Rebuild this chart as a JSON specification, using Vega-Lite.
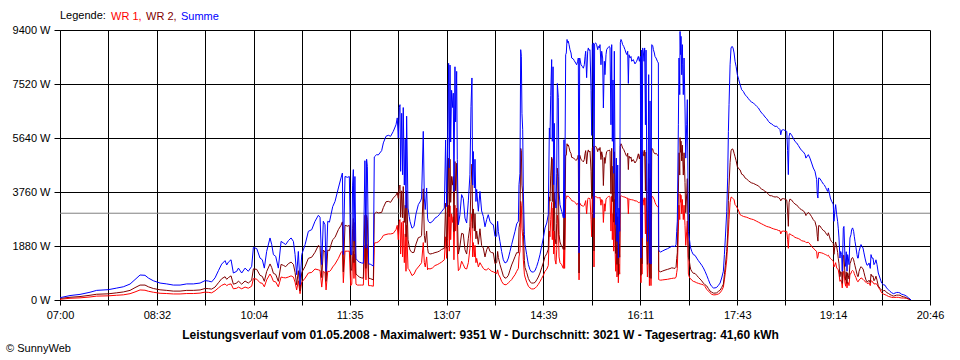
{
"$schema":"https://vega.github.io/schema/vega-lite/v6.json",
"width":870,"height":270,"autosize":"none",
"padding":{"left":60,"top":30,"right":30,"bottom":60},
"background":"white",
"config":{"font":"Liberation Sans","view":{"stroke":null},
"axis":{"domainColor":"black","tickColor":"black","gridColor":"black","gridOpacity":1,"gridWidth":1,"labelColor":"black","labelFontSize":11,"tickWidth":1,"domainWidth":1}},
"title":{"text":"© SunnyWeb","orient":"bottom","anchor":"start","frame":"bounds","fontSize":11,"fontWeight":"normal","color":"black","offset":3,"dx":-6},
"layer":[
{"data":{"values":[{"durchschnitt":3021}]},"mark":{"type":"rule","color":"#808080","strokeWidth":1},"encoding":{"y":{"field":"durchschnitt","type":"quantitative","scale":{"domain":[0,9400],"nice":false},
"axis":{"values":[0,1880,3760,5640,7520,9400],"labelExpr":"datum.value + ' W'","title":null,"grid":true,"tickSize":6,"labelPadding":4,"labelFlush":false}}}},
{"data":{"values":[
{"minute":420,"wr1":25,"wr2":55,"summe":80},
{"minute":429.5,"wr1":60,"wr2":95,"summe":155},
{"minute":439,"wr1":75,"wr2":120,"summe":195},
{"minute":448.5,"wr1":105,"wr2":165,"summe":270},
{"minute":454.8,"wr1":135,"wr2":200,"summe":335},
{"minute":465.9,"wr1":145,"wr2":215,"summe":360},
{"minute":473.8,"wr1":165,"wr2":250,"summe":415},
{"minute":480.1,"wr1":180,"wr2":280,"summe":460},
{"minute":486.5,"wr1":220,"wr2":335,"summe":555},
{"minute":491.2,"wr1":280,"wr2":430,"summe":710},
{"minute":496,"wr1":350,"wr2":520,"summe":870},
{"minute":500.7,"wr1":340,"wr2":520,"summe":860},
{"minute":503.9,"wr1":305,"wr2":460,"summe":765},
{"minute":508.6,"wr1":270,"wr2":400,"summe":670},
{"minute":515,"wr1":235,"wr2":355,"summe":590},
{"minute":521.3,"wr1":225,"wr2":335,"summe":560},
{"minute":527.6,"wr1":210,"wr2":310,"summe":520},
{"minute":534,"wr1":210,"wr2":310,"summe":520},
{"minute":540.3,"wr1":225,"wr2":335,"summe":560},
{"minute":546.6,"wr1":225,"wr2":335,"summe":560},
{"minute":553,"wr1":240,"wr2":350,"summe":590},
{"minute":557.7,"wr1":275,"wr2":400,"summe":675},
{"minute":560.9,"wr1":265,"wr2":395,"summe":660},
{"minute":564,"wr1":250,"wr2":380,"summe":630},
{"minute":567.2,"wr1":320,"wr2":450,"summe":770},
{"minute":570.4,"wr1":420,"wr2":600,"summe":1020},
{"minute":573.5,"wr1":510,"wr2":740,"summe":1250},
{"minute":576.7,"wr1":560,"wr2":810,"summe":1370},
{"minute":578.3,"wr1":500,"wr2":720,"summe":1220},
{"minute":579.9,"wr1":540,"wr2":780,"summe":1320},
{"minute":582.4,"wr1":560,"wr2":840,"summe":1400},
{"minute":584.6,"wr1":390,"wr2":550,"summe":940},
{"minute":587.8,"wr1":410,"wr2":590,"summe":1000},
{"minute":589.4,"wr1":450,"wr2":660,"summe":1110},
{"minute":592.5,"wr1":390,"wr2":550,"summe":940},
{"minute":595.7,"wr1":450,"wr2":660,"summe":1110},
{"minute":598.8,"wr1":410,"wr2":590,"summe":1000},
{"minute":602,"wr1":480,"wr2":690,"summe":1170},
{"minute":603.6,"wr1":745,"wr2":1085,"summe":1830},
{"minute":606.8,"wr1":725,"wr2":1065,"summe":1790},
{"minute":609.9,"wr1":600,"wr2":860,"summe":1460},
{"minute":612.1,"wr1":580,"wr2":820,"summe":1400},
{"minute":614,"wr1":460,"wr2":650,"summe":1110},
{"minute":616.2,"wr1":700,"wr2":990,"summe":1690},
{"minute":619.4,"wr1":905,"wr2":1255,"summe":2160},
{"minute":621,"wr1":800,"wr2":1130,"summe":1930},
{"minute":622.6,"wr1":650,"wr2":930,"summe":1580},
{"minute":624.8,"wr1":630,"wr2":890,"summe":1520},
{"minute":627.3,"wr1":460,"wr2":650,"summe":1110},
{"minute":629.9,"wr1":800,"wr2":1240,"summe":2040},
{"minute":632.1,"wr1":780,"wr2":1205,"summe":1985},
{"minute":634.3,"wr1":770,"wr2":1160,"summe":1930},
{"minute":636.8,"wr1":800,"wr2":1265,"summe":2065},
{"minute":639.4,"wr1":840,"wr2":1320,"summe":2160},
{"minute":641.6,"wr1":800,"wr2":1240,"summe":2040},
{"minute":643.2,"wr1":620,"wr2":960,"summe":1580},
{"minute":644.7,"wr1":350,"wr2":530,"summe":880},
{"minute":646.3,"wr1":670,"wr2":1020,"summe":1690},
{"minute":647.9,"wr1":220,"wr2":315,"summe":535},
{"minute":649.5,"wr1":620,"wr2":960,"summe":1580},
{"minute":652.7,"wr1":760,"wr2":1170,"summe":1930},
{"minute":655.8,"wr1":940,"wr2":1450,"summe":2390},
{"minute":659,"wr1":960,"wr2":1490,"summe":2450},
{"minute":662.1,"wr1":1080,"wr2":1660,"summe":2740},
{"minute":665.3,"wr1":1050,"wr2":1900,"summe":2950},
{"minute":666.9,"wr1":1030,"wr2":1850,"summe":2880},
{"minute":668.5,"wr1":450,"wr2":780,"summe":1230},
{"minute":670,"wr1":1000,"wr2":1740,"summe":2740},
{"minute":671.6,"wr1":950,"wr2":1670,"summe":2620},
{"minute":672.6,"wr1":350,"wr2":650,"summe":1000},
{"minute":674.2,"wr1":1000,"wr2":1740,"summe":2740},
{"minute":675.8,"wr1":990,"wr2":1720,"summe":2710},
{"minute":677.3,"wr1":1050,"wr2":1920,"summe":2970},
{"minute":678.9,"wr1":1150,"wr2":2100,"summe":3250},
{"minute":681.1,"wr1":1250,"wr2":2180,"summe":3430},
{"minute":684.3,"wr1":1450,"wr2":2450,"summe":3900},
{"minute":686.8,"wr1":1650,"wr2":2600,"summe":4250},
{"minute":688.1,"wr1":1700,"wr2":2720,"summe":4420},
{"minute":689,"wr1":600,"wr2":980,"summe":1580},
{"minute":690.6,"wr1":1700,"wr2":2600,"summe":4300},
{"minute":693.1,"wr1":1700,"wr2":2570,"summe":4270},
{"minute":694.7,"wr1":1700,"wr2":2600,"summe":4300},
{"minute":696,"wr1":500,"wr2":1080,"summe":1580},
{"minute":697,"wr1":550,"wr2":1030,"summe":1580},
{"minute":697.8,"wr1":1500,"wr2":2500,"summe":4000},
{"minute":698.5,"wr1":1700,"wr2":2840,"summe":4540},
{"minute":699.1,"wr1":750,"wr2":1300,"summe":2050},
{"minute":700,"wr1":1600,"wr2":2700,"summe":4300},
{"minute":701,"wr1":550,"wr2":900,"summe":1450},
{"minute":702.3,"wr1":520,"wr2":860,"summe":1380},
{"minute":704.2,"wr1":520,"wr2":800,"summe":1320},
{"minute":706.4,"wr1":520,"wr2":770,"summe":1290},
{"minute":708,"wr1":520,"wr2":760,"summe":1280},
{"minute":709.5,"wr1":1900,"wr2":2950,"summe":4850},
{"minute":710.5,"wr1":700,"wr2":1100,"summe":1800},
{"minute":711.1,"wr1":1950,"wr2":2950,"summe":4900},
{"minute":711.8,"wr1":1850,"wr2":2800,"summe":4650},
{"minute":713,"wr1":500,"wr2":760,"summe":1260},
{"minute":715,"wr1":500,"wr2":740,"summe":1240},
{"minute":717.5,"wr1":480,"wr2":700,"summe":1180},
{"minute":718.4,"wr1":1980,"wr2":3000,"summe":4980},
{"minute":720.6,"wr1":2000,"wr2":3060,"summe":5060},
{"minute":722.2,"wr1":2020,"wr2":3030,"summe":5050},
{"minute":725.4,"wr1":2150,"wr2":3050,"summe":5200},
{"minute":727,"wr1":2250,"wr2":3220,"summe":5470},
{"minute":729.5,"wr1":2280,"wr2":3420,"summe":5700},
{"minute":731.7,"wr1":2300,"wr2":3435,"summe":5735},
{"minute":733.9,"wr1":2300,"wr2":3400,"summe":5700},
{"minute":736.4,"wr1":2320,"wr2":3550,"summe":5870},
{"minute":739,"wr1":2450,"wr2":3650,"summe":6100},
{"minute":740.2,"wr1":2600,"wr2":3740,"summe":6340},
{"minute":741.2,"wr1":2100,"wr2":3540,"summe":5640},
{"minute":742.1,"wr1":2750,"wr2":3950,"summe":6700},
{"minute":742.8,"wr1":2800,"wr2":4000,"summe":6800},
{"minute":743.4,"wr1":1600,"wr2":2880,"summe":4480},
{"minute":744.4,"wr1":2700,"wr2":3800,"summe":6500},
{"minute":745.3,"wr1":1500,"wr2":2860,"summe":4360},
{"minute":745.9,"wr1":2750,"wr2":3950,"summe":6700},
{"minute":746.9,"wr1":1300,"wr2":2700,"summe":4000},
{"minute":747.8,"wr1":2300,"wr2":3300,"summe":5600},
{"minute":748.5,"wr1":1000,"wr2":2200,"summe":3200},
{"minute":749.1,"wr1":2600,"wr2":3800,"summe":6400},
{"minute":750.4,"wr1":1100,"wr2":2100,"summe":3200},
{"minute":751.6,"wr1":1050,"wr2":1850,"summe":2900},
{"minute":752.3,"wr1":1000,"wr2":1740,"summe":2740},
{"minute":754.2,"wr1":850,"wr2":1650,"summe":2500},
{"minute":756.1,"wr1":900,"wr2":1660,"summe":2560},
{"minute":758,"wr1":1050,"wr2":1950,"summe":3000},
{"minute":760.2,"wr1":1150,"wr2":2170,"summe":3320},
{"minute":762.4,"wr1":1250,"wr2":2200,"summe":3450},
{"minute":763.3,"wr1":1300,"wr2":2250,"summe":3550},
{"minute":764.9,"wr1":2000,"wr2":3870,"summe":5870},
{"minute":765.9,"wr1":1300,"wr2":2250,"summe":3550},
{"minute":766.8,"wr1":1150,"wr2":2000,"summe":3150},
{"minute":768.1,"wr1":1500,"wr2":2400,"summe":3900},
{"minute":769,"wr1":1050,"wr2":1800,"summe":2850},
{"minute":769.7,"wr1":1100,"wr2":1640,"summe":2740},
{"minute":771.3,"wr1":1080,"wr2":1600,"summe":2680},
{"minute":773.8,"wr1":1120,"wr2":1620,"summe":2740},
{"minute":776,"wr1":1200,"wr2":1650,"summe":2850},
{"minute":778.2,"wr1":1230,"wr2":1670,"summe":2900},
{"minute":780.1,"wr1":1270,"wr2":1700,"summe":2970},
{"minute":782.3,"wr1":1320,"wr2":1760,"summe":3080},
{"minute":784.9,"wr1":1400,"wr2":1800,"summe":3200},
{"minute":786.1,"wr1":2200,"wr2":3370,"summe":5570},
{"minute":787.1,"wr1":1450,"wr2":1800,"summe":3250},
{"minute":788,"wr1":2100,"wr2":3300,"summe":5400},
{"minute":789,"wr1":3300,"wr2":4940,"summe":8240},
{"minute":789.6,"wr1":1700,"wr2":2900,"summe":4600},
{"minute":790.3,"wr1":3280,"wr2":4900,"summe":8180},
{"minute":790.9,"wr1":2100,"wr2":3400,"summe":5500},
{"minute":791.8,"wr1":3000,"wr2":4300,"summe":7300},
{"minute":792.8,"wr1":2700,"wr2":4000,"summe":6700},
{"minute":793.4,"wr1":2900,"wr2":4300,"summe":7200},
{"minute":794,"wr1":1400,"wr2":2380,"summe":3780},
{"minute":795,"wr1":3300,"wr2":4820,"summe":8120},
{"minute":795.6,"wr1":2400,"wr2":3800,"summe":6200},
{"minute":796.6,"wr1":3200,"wr2":4760,"summe":7960},
{"minute":797.2,"wr1":1850,"wr2":3050,"summe":4900},
{"minute":798.2,"wr1":1020,"wr2":1600,"summe":2620},
{"minute":799.7,"wr1":1100,"wr2":1870,"summe":2970},
{"minute":801.3,"wr1":1350,"wr2":2320,"summe":3670},
{"minute":802.9,"wr1":1230,"wr2":2300,"summe":3530},
{"minute":804.5,"wr1":1100,"wr2":1750,"summe":2850},
{"minute":806.1,"wr1":1080,"wr2":1600,"summe":2680},
{"minute":807.7,"wr1":1300,"wr2":2150,"summe":3450},
{"minute":809.2,"wr1":1800,"wr2":2560,"summe":4360},
{"minute":810.2,"wr1":2700,"wr2":4030,"summe":6730},
{"minute":811.1,"wr1":3000,"wr2":4730,"summe":7730},
{"minute":811.8,"wr1":1500,"wr2":2500,"summe":4000},
{"minute":812.4,"wr1":2000,"wr2":3170,"summe":5170},
{"minute":813.4,"wr1":1500,"wr2":2400,"summe":3900},
{"minute":814,"wr1":1900,"wr2":3000,"summe":4900},
{"minute":814.9,"wr1":1300,"wr2":2130,"summe":3430},
{"minute":815.6,"wr1":1450,"wr2":2400,"summe":3850},
{"minute":817.2,"wr1":1150,"wr2":1940,"summe":3090},
{"minute":818.7,"wr1":1300,"wr2":2480,"summe":3780},
{"minute":820.3,"wr1":1200,"wr2":1900,"summe":3100},
{"minute":821.9,"wr1":1100,"wr2":1810,"summe":2910},
{"minute":823.5,"wr1":1050,"wr2":1500,"summe":2550},
{"minute":825.1,"wr1":1050,"wr2":1750,"summe":2800},
{"minute":826.6,"wr1":1100,"wr2":1870,"summe":2970},
{"minute":828.2,"wr1":1050,"wr2":1690,"summe":2740},
{"minute":829.8,"wr1":1000,"wr2":1650,"summe":2650},
{"minute":831.4,"wr1":980,"wr2":1640,"summe":2620},
{"minute":833,"wr1":950,"wr2":1265,"summe":2215},
{"minute":834.6,"wr1":920,"wr2":1300,"summe":2220},
{"minute":835.5,"wr1":1050,"wr2":1690,"summe":2740},
{"minute":836.2,"wr1":900,"wr2":1480,"summe":2380},
{"minute":837.7,"wr1":800,"wr2":1240,"summe":2040},
{"minute":839.3,"wr1":650,"wr2":1040,"summe":1690},
{"minute":840.9,"wr1":560,"wr2":840,"summe":1400},
{"minute":842.5,"wr1":530,"wr2":760,"summe":1290},
{"minute":844.1,"wr1":540,"wr2":780,"summe":1320},
{"minute":845.7,"wr1":600,"wr2":860,"summe":1460},
{"minute":847.2,"wr1":650,"wr2":1040,"summe":1690},
{"minute":848.8,"wr1":710,"wr2":1220,"summe":1930},
{"minute":850.4,"wr1":800,"wr2":1360,"summe":2160},
{"minute":852,"wr1":880,"wr2":1510,"summe":2390},
{"minute":853.6,"wr1":1000,"wr2":1650,"summe":2650},
{"minute":855.2,"wr1":1100,"wr2":1640,"summe":2740},
{"minute":855.8,"wr1":1500,"wr2":2515,"summe":4015},
{"minute":856.7,"wr1":1700,"wr2":2700,"summe":4400},
{"minute":857.4,"wr1":3435,"wr2":5280,"summe":8715},
{"minute":858,"wr1":3280,"wr2":5200,"summe":8480},
{"minute":858.6,"wr1":2500,"wr2":4000,"summe":6500},
{"minute":859.3,"wr1":2200,"wr2":3730,"summe":5930},
{"minute":859.9,"wr1":1400,"wr2":2380,"summe":3780},
{"minute":860.9,"wr1":900,"wr2":1375,"summe":2275},
{"minute":861.5,"wr1":800,"wr2":1130,"summe":1930},
{"minute":863.1,"wr1":620,"wr2":960,"summe":1580},
{"minute":864.7,"wr1":480,"wr2":750,"summe":1230},
{"minute":866.2,"wr1":420,"wr2":635,"summe":1055},
{"minute":867.8,"wr1":385,"wr2":590,"summe":975},
{"minute":869.4,"wr1":385,"wr2":590,"summe":975},
{"minute":871,"wr1":410,"wr2":610,"summe":1020},
{"minute":872.6,"wr1":470,"wr2":700,"summe":1170},
{"minute":874.1,"wr1":545,"wr2":800,"summe":1345},
{"minute":875.7,"wr1":640,"wr2":940,"summe":1580},
{"minute":877.3,"wr1":750,"wr2":1120,"summe":1870},
{"minute":878.9,"wr1":860,"wr2":1300,"summe":2160},
{"minute":880.5,"wr1":1000,"wr2":1510,"summe":2510},
{"minute":882.1,"wr1":1070,"wr2":1610,"summe":2680},
{"minute":883.6,"wr1":1200,"wr2":1770,"summe":2970},
{"minute":884.6,"wr1":2400,"wr2":3590,"summe":5990},
{"minute":885.2,"wr1":2200,"wr2":3440,"summe":5640},
{"minute":885.9,"wr1":2800,"wr2":4320,"summe":7120},
{"minute":886.8,"wr1":3400,"wr2":4970,"summe":8370},
{"minute":887.4,"wr1":2100,"wr2":3425,"summe":5525},
{"minute":888.1,"wr1":3200,"wr2":4920,"summe":8120},
{"minute":888.7,"wr1":1600,"wr2":2415,"summe":4015},
{"minute":889.3,"wr1":2400,"wr2":3750,"summe":6150},
{"minute":890,"wr1":1400,"wr2":2150,"summe":3550},
{"minute":890.9,"wr1":1250,"wr2":1950,"summe":3200},
{"minute":891.6,"wr1":1750,"wr2":2660,"summe":4410},
{"minute":892.2,"wr1":2950,"wr2":4590,"summe":7540},
{"minute":893.1,"wr1":2750,"wr2":4300,"summe":7050},
{"minute":893.8,"wr1":1500,"wr2":2280,"summe":3780},
{"minute":894.7,"wr1":1300,"wr2":2020,"summe":3320},
{"minute":896.3,"wr1":1230,"wr2":1855,"summe":3085},
{"minute":897.2,"wr1":1150,"wr2":1820,"summe":2970},
{"minute":897.9,"wr1":1100,"wr2":1760,"summe":2860},
{"minute":898.5,"wr1":2200,"wr2":3380,"summe":5580},
{"minute":899.1,"wr1":1100,"wr2":1760,"summe":2860},
{"minute":900.1,"wr1":3500,"wr2":5040,"summe":8540},
{"minute":900.7,"wr1":3560,"wr2":5040,"summe":8600},
{"minute":901.4,"wr1":3630,"wr2":5440,"summe":9070},
{"minute":902,"wr1":3600,"wr2":5360,"summe":8960},
{"minute":902.6,"wr1":3610,"wr2":5400,"summe":9010},
{"minute":903.3,"wr1":3580,"wr2":5310,"summe":8890},
{"minute":904.2,"wr1":3550,"wr2":5165,"summe":8715},
{"minute":905.2,"wr1":3500,"wr2":5100,"summe":8600},
{"minute":905.8,"wr1":3460,"wr2":4965,"summe":8425},
{"minute":907.4,"wr1":3440,"wr2":4950,"summe":8390},
{"minute":908.3,"wr1":3420,"wr2":4910,"summe":8330},
{"minute":909.6,"wr1":3380,"wr2":4870,"summe":8250},
{"minute":910.5,"wr1":3320,"wr2":4870,"summe":8190},
{"minute":911.5,"wr1":3350,"wr2":4960,"summe":8310},
{"minute":912.1,"wr1":3380,"wr2":5045,"summe":8425},
{"minute":912.8,"wr1":700,"wr2":940,"summe":1640},
{"minute":913.4,"wr1":3380,"wr2":5045,"summe":8425},
{"minute":914.7,"wr1":3300,"wr2":4890,"summe":8190},
{"minute":915.9,"wr1":3280,"wr2":4850,"summe":8130},
{"minute":916.9,"wr1":3260,"wr2":4810,"summe":8070},
{"minute":917.8,"wr1":3300,"wr2":4890,"summe":8190},
{"minute":918.5,"wr1":3380,"wr2":5100,"summe":8480},
{"minute":919.1,"wr1":3460,"wr2":5200,"summe":8660},
{"minute":920,"wr1":3000,"wr2":4740,"summe":7740},
{"minute":921,"wr1":3500,"wr2":5160,"summe":8660},
{"minute":921.6,"wr1":3550,"wr2":5225,"summe":8775},
{"minute":922.3,"wr1":3540,"wr2":5150,"summe":8690},
{"minute":923.2,"wr1":3530,"wr2":5185,"summe":8715},
{"minute":924.2,"wr1":2800,"wr2":4485,"summe":7285},
{"minute":924.8,"wr1":2200,"wr2":3530,"summe":5730},
{"minute":925.4,"wr1":3590,"wr2":5300,"summe":8890},
{"minute":926.4,"wr1":3600,"wr2":5350,"summe":8950},
{"minute":927,"wr1":1150,"wr2":1710,"summe":2860},
{"minute":927.6,"wr1":3590,"wr2":5330,"summe":8920},
{"minute":928.6,"wr1":3600,"wr2":5350,"summe":8950},
{"minute":929.5,"wr1":3590,"wr2":5300,"summe":8890},
{"minute":930.5,"wr1":3550,"wr2":5165,"summe":8715},
{"minute":931.1,"wr1":3560,"wr2":5270,"summe":8830},
{"minute":932.1,"wr1":3560,"wr2":5215,"summe":8775},
{"minute":932.7,"wr1":3580,"wr2":5310,"summe":8890},
{"minute":933.6,"wr1":3300,"wr2":4890,"summe":8190},
{"minute":934.3,"wr1":3500,"wr2":5160,"summe":8660},
{"minute":935.2,"wr1":3450,"wr2":4975,"summe":8425},
{"minute":935.9,"wr1":2700,"wr2":3985,"summe":6685},
{"minute":936.8,"wr1":3350,"wr2":4960,"summe":8310},
{"minute":937.4,"wr1":3090,"wr2":4755,"summe":7845},
{"minute":938.4,"wr1":3500,"wr2":5040,"summe":8540},
{"minute":939,"wr1":3550,"wr2":5165,"summe":8715},
{"minute":940,"wr1":3580,"wr2":5195,"summe":8775},
{"minute":940.6,"wr1":3600,"wr2":5200,"summe":8800},
{"minute":941.6,"wr1":3610,"wr2":5220,"summe":8830},
{"minute":942.2,"wr1":3600,"wr2":5175,"summe":8775},
{"minute":943.1,"wr1":2400,"wr2":3700,"summe":6100},
{"minute":943.8,"wr1":3610,"wr2":5280,"summe":8890},
{"minute":944.4,"wr1":2100,"wr2":3425,"summe":5525},
{"minute":945,"wr1":3000,"wr2":4660,"summe":7660},
{"minute":945.7,"wr1":1700,"wr2":2710,"summe":4410},
{"minute":946.3,"wr1":3500,"wr2":5160,"summe":8660},
{"minute":946.9,"wr1":1900,"wr2":3040,"summe":4940},
{"minute":947.6,"wr1":1000,"wr2":1620,"summe":2620},
{"minute":948.2,"wr1":1900,"wr2":3040,"summe":4940},
{"minute":948.8,"wr1":800,"wr2":1240,"summe":2040},
{"minute":949.5,"wr1":1800,"wr2":2900,"summe":4700},
{"minute":950.1,"wr1":600,"wr2":860,"summe":1460},
{"minute":950.7,"wr1":1250,"wr2":1950,"summe":3200},
{"minute":951.4,"wr1":900,"wr2":1490,"summe":2390},
{"minute":952,"wr1":3610,"wr2":5350,"summe":8960},
{"minute":952.6,"wr1":3630,"wr2":5440,"summe":9070},
{"minute":953.3,"wr1":3620,"wr2":5390,"summe":9010},
{"minute":954.2,"wr1":3600,"wr2":5290,"summe":8890},
{"minute":955.2,"wr1":3590,"wr2":5240,"summe":8830},
{"minute":956.4,"wr1":3580,"wr2":5135,"summe":8715},
{"minute":957.4,"wr1":3560,"wr2":5040,"summe":8600},
{"minute":958.3,"wr1":3540,"wr2":5000,"summe":8540},
{"minute":959,"wr1":3550,"wr2":5110,"summe":8660},
{"minute":959.6,"wr1":3000,"wr2":4540,"summe":7540},
{"minute":960.2,"wr1":3530,"wr2":5010,"summe":8540},
{"minute":961.2,"wr1":3490,"wr2":4935,"summe":8425},
{"minute":962.1,"wr1":3500,"wr2":4980,"summe":8480},
{"minute":962.8,"wr1":3490,"wr2":4820,"summe":8310},
{"minute":964.3,"wr1":3480,"wr2":4890,"summe":8370},
{"minute":965.9,"wr1":3450,"wr2":4770,"summe":8220},
{"minute":967.5,"wr1":3450,"wr2":4860,"summe":8310},
{"minute":969.1,"wr1":3390,"wr2":5090,"summe":8480},
{"minute":970.1,"wr1":3400,"wr2":4910,"summe":8310},
{"minute":971,"wr1":3400,"wr2":5080,"summe":8480},
{"minute":971.6,"wr1":600,"wr2":860,"summe":1460},
{"minute":972,"wr1":3550,"wr2":5150,"summe":8700},
{"minute":972.6,"wr1":900,"wr2":1260,"summe":2160},
{"minute":973.2,"wr1":3560,"wr2":5215,"summe":8775},
{"minute":973.9,"wr1":3500,"wr2":5100,"summe":8600},
{"minute":974.5,"wr1":3300,"wr2":5010,"summe":8310},
{"minute":975.1,"wr1":3560,"wr2":5215,"summe":8775},
{"minute":975.8,"wr1":2300,"wr2":3800,"summe":6100},
{"minute":976.4,"wr1":3550,"wr2":5150,"summe":8700},
{"minute":977,"wr1":1900,"wr2":3040,"summe":4940},
{"minute":977.7,"wr1":800,"wr2":1240,"summe":2040},
{"minute":978.3,"wr1":1300,"wr2":2020,"summe":3320},
{"minute":978.9,"wr1":3100,"wr2":4745,"summe":7845},
{"minute":979.6,"wr1":500,"wr2":780,"summe":1280},
{"minute":980.2,"wr1":2700,"wr2":4230,"summe":6930},
{"minute":981.1,"wr1":500,"wr2":750,"summe":1250},
{"minute":981.8,"wr1":3610,"wr2":5280,"summe":8890},
{"minute":982.7,"wr1":3600,"wr2":5260,"summe":8860},
{"minute":983.4,"wr1":3550,"wr2":5165,"summe":8715},
{"minute":984.3,"wr1":3490,"wr2":5110,"summe":8600},
{"minute":984.9,"wr1":3400,"wr2":5080,"summe":8480},
{"minute":985.9,"wr1":3320,"wr2":5105,"summe":8425},
{"minute":987.2,"wr1":3250,"wr2":5060,"summe":8310},
{"minute":988.1,"wr1":3250,"wr2":5000,"summe":8250},
{"minute":988.4,"wr1":710,"wr2":1040,"summe":1750},
{"minute":989.1,"wr1":700,"wr2":990,"summe":1690},
{"minute":990.3,"wr1":690,"wr2":980,"summe":1670},
{"minute":992.2,"wr1":700,"wr2":1010,"summe":1710},
{"minute":994.4,"wr1":710,"wr2":1040,"summe":1750},
{"minute":996.7,"wr1":720,"wr2":1065,"summe":1785},
{"minute":999.2,"wr1":740,"wr2":1095,"summe":1835},
{"minute":1000.8,"wr1":750,"wr2":1120,"summe":1870},
{"minute":1002.4,"wr1":760,"wr2":1110,"summe":1870},
{"minute":1003.9,"wr1":760,"wr2":1100,"summe":1860},
{"minute":1004.9,"wr1":790,"wr2":1140,"summe":1930},
{"minute":1005.5,"wr1":950,"wr2":1440,"summe":2390},
{"minute":1006.1,"wr1":1100,"wr2":1640,"summe":2740},
{"minute":1007.1,"wr1":2400,"wr2":3700,"summe":6100},
{"minute":1007.7,"wr1":3300,"wr2":5125,"summe":8425},
{"minute":1008.4,"wr1":2800,"wr2":4350,"summe":7150},
{"minute":1008.7,"wr1":3700,"wr2":5651,"summe":9351},
{"minute":1009.3,"wr1":3400,"wr2":5140,"summe":8540},
{"minute":1009.6,"wr1":3650,"wr2":5530,"summe":9180},
{"minute":1010.3,"wr1":3000,"wr2":4840,"summe":7840},
{"minute":1010.9,"wr1":3500,"wr2":5390,"summe":8890},
{"minute":1011.2,"wr1":3200,"wr2":4990,"summe":8190},
{"minute":1011.8,"wr1":2800,"wr2":4350,"summe":7150},
{"minute":1012.5,"wr1":3300,"wr2":5125,"summe":8425},
{"minute":1013.4,"wr1":2600,"wr2":4085,"summe":6685},
{"minute":1014.1,"wr1":1900,"wr2":3040,"summe":4940},
{"minute":1015,"wr1":2400,"wr2":3700,"summe":6100},
{"minute":1015.6,"wr1":2750,"wr2":4225,"summe":6975},
{"minute":1016.6,"wr1":900,"wr2":1490,"summe":2390},
{"minute":1017.5,"wr1":800,"wr2":1360,"summe":2160},
{"minute":1018.2,"wr1":750,"wr2":1180,"summe":1930},
{"minute":1018.8,"wr1":740,"wr2":1070,"summe":1810},
{"minute":1019.8,"wr1":690,"wr2":1000,"summe":1690},
{"minute":1021.3,"wr1":650,"wr2":930,"summe":1580},
{"minute":1022.9,"wr1":630,"wr2":925,"summe":1555},
{"minute":1024.5,"wr1":600,"wr2":860,"summe":1460},
{"minute":1026.1,"wr1":580,"wr2":790,"summe":1370},
{"minute":1027.7,"wr1":560,"wr2":730,"summe":1290},
{"minute":1029.3,"wr1":545,"wr2":665,"summe":1210},
{"minute":1030.8,"wr1":530,"wr2":590,"summe":1120},
{"minute":1032.4,"wr1":470,"wr2":530,"summe":1000},
{"minute":1034,"wr1":370,"wr2":490,"summe":860},
{"minute":1035.6,"wr1":310,"wr2":400,"summe":710},
{"minute":1037.2,"wr1":250,"wr2":310,"summe":560},
{"minute":1038.7,"wr1":200,"wr2":275,"summe":475},
{"minute":1040.3,"wr1":180,"wr2":240,"summe":420},
{"minute":1041.9,"wr1":180,"wr2":240,"summe":420},
{"minute":1043.5,"wr1":190,"wr2":250,"summe":440},
{"minute":1045.1,"wr1":210,"wr2":300,"summe":510},
{"minute":1046.7,"wr1":250,"wr2":340,"summe":590},
{"minute":1048.2,"wr1":330,"wr2":435,"summe":765},
{"minute":1049.8,"wr1":450,"wr2":550,"summe":1000},
{"minute":1050.8,"wr1":700,"wr2":880,"summe":1580},
{"minute":1051.7,"wr1":950,"wr2":1210,"summe":2160},
{"minute":1053,"wr1":1400,"wr2":1685,"summe":3085},
{"minute":1053.9,"wr1":1950,"wr2":2300,"summe":4250},
{"minute":1054.6,"wr1":2400,"wr2":3470,"summe":5870},
{"minute":1055.2,"wr1":2800,"wr2":4000,"summe":6800},
{"minute":1056.2,"wr1":3400,"wr2":4790,"summe":8190},
{"minute":1057.1,"wr1":3580,"wr2":5195,"summe":8775},
{"minute":1058.1,"wr1":3570,"wr2":5260,"summe":8830},
{"minute":1059,"wr1":3530,"wr2":5245,"summe":8775},
{"minute":1060,"wr1":3490,"wr2":5110,"summe":8600},
{"minute":1060.9,"wr1":3320,"wr2":4990,"summe":8310},
{"minute":1061.9,"wr1":3280,"wr2":4855,"summe":8135},
{"minute":1063.1,"wr1":3200,"wr2":4645,"summe":7845},
{"minute":1064.4,"wr1":3100,"wr2":4570,"summe":7670},
{"minute":1065.7,"wr1":2970,"wr2":4530,"summe":7500},
{"minute":1067.2,"wr1":2940,"wr2":4380,"summe":7320},
{"minute":1068.8,"wr1":2910,"wr2":4350,"summe":7260},
{"minute":1070.4,"wr1":2895,"wr2":4250,"summe":7145},
{"minute":1072,"wr1":2880,"wr2":4210,"summe":7090},
{"minute":1073.6,"wr1":2855,"wr2":4155,"summe":7010},
{"minute":1075.1,"wr1":2830,"wr2":4110,"summe":6940},
{"minute":1076.7,"wr1":2815,"wr2":4075,"summe":6890},
{"minute":1078.3,"wr1":2800,"wr2":4060,"summe":6860},
{"minute":1079.9,"wr1":2770,"wr2":4030,"summe":6800},
{"minute":1081.5,"wr1":2740,"wr2":4000,"summe":6740},
{"minute":1083.1,"wr1":2710,"wr2":3975,"summe":6685},
{"minute":1084.6,"wr1":2680,"wr2":3910,"summe":6590},
{"minute":1086.2,"wr1":2650,"wr2":3860,"summe":6510},
{"minute":1087.8,"wr1":2620,"wr2":3830,"summe":6450},
{"minute":1089.4,"wr1":2590,"wr2":3780,"summe":6370},
{"minute":1091,"wr1":2560,"wr2":3750,"summe":6310},
{"minute":1092.6,"wr1":2545,"wr2":3675,"summe":6220},
{"minute":1094.1,"wr1":2530,"wr2":3630,"summe":6160},
{"minute":1095.7,"wr1":2500,"wr2":3630,"summe":6130},
{"minute":1097.3,"wr1":2480,"wr2":3600,"summe":6080},
{"minute":1098.9,"wr1":2460,"wr2":3585,"summe":6045},
{"minute":1100.5,"wr1":2450,"wr2":3595,"summe":6045},
{"minute":1102,"wr1":2420,"wr2":3570,"summe":5990},
{"minute":1103.6,"wr1":2410,"wr2":3520,"summe":5930},
{"minute":1104.3,"wr1":2300,"wr2":3450,"summe":5750},
{"minute":1105.2,"wr1":2390,"wr2":3520,"summe":5910},
{"minute":1106.8,"wr1":2400,"wr2":3530,"summe":5930},
{"minute":1108.4,"wr1":2390,"wr2":3510,"summe":5900},
{"minute":1110,"wr1":2390,"wr2":3480,"summe":5870},
{"minute":1110.8,"wr1":2100,"wr2":3100,"summe":5200},
{"minute":1111.5,"wr1":1800,"wr2":2565,"summe":4365},
{"minute":1112.2,"wr1":2300,"wr2":3400,"summe":5700},
{"minute":1113,"wr1":2300,"wr2":3515,"summe":5815},
{"minute":1114.6,"wr1":2260,"wr2":3480,"summe":5740},
{"minute":1116.2,"wr1":2230,"wr2":3400,"summe":5630},
{"minute":1117.8,"wr1":2180,"wr2":3340,"summe":5520},
{"minute":1119.4,"wr1":2160,"wr2":3310,"summe":5470},
{"minute":1121,"wr1":2140,"wr2":3240,"summe":5380},
{"minute":1122.5,"wr1":2110,"wr2":3180,"summe":5290},
{"minute":1124.1,"wr1":2065,"wr2":3140,"summe":5205},
{"minute":1125.7,"wr1":2050,"wr2":3110,"summe":5160},
{"minute":1127.3,"wr1":2040,"wr2":3030,"summe":5070},
{"minute":1128.2,"wr1":2000,"wr2":2940,"summe":4940},
{"minute":1128.9,"wr1":2000,"wr2":2980,"summe":4980},
{"minute":1130.5,"wr1":2010,"wr2":3050,"summe":5060},
{"minute":1132,"wr1":1950,"wr2":2990,"summe":4940},
{"minute":1133.6,"wr1":1870,"wr2":2900,"summe":4770},
{"minute":1135.2,"wr1":1800,"wr2":2795,"summe":4595},
{"minute":1136.8,"wr1":1750,"wr2":2730,"summe":4480},
{"minute":1138.4,"wr1":1680,"wr2":2510,"summe":4190},
{"minute":1139,"wr1":1450,"wr2":2220,"summe":3670},
{"minute":1139.6,"wr1":1500,"wr2":2050,"summe":3550},
{"minute":1140.3,"wr1":1660,"wr2":2590,"summe":4250},
{"minute":1141.5,"wr1":1650,"wr2":2580,"summe":4230},
{"minute":1143.1,"wr1":1640,"wr2":2490,"summe":4130},
{"minute":1144.7,"wr1":1620,"wr2":2420,"summe":4040},
{"minute":1145.6,"wr1":1600,"wr2":2410,"summe":4010},
{"minute":1146.9,"wr1":1580,"wr2":2340,"summe":3920},
{"minute":1147.9,"wr1":1560,"wr2":2280,"summe":3840},
{"minute":1148.8,"wr1":1540,"wr2":2240,"summe":3780},
{"minute":1149.5,"wr1":1560,"wr2":2340,"summe":3900},
{"minute":1150.4,"wr1":1500,"wr2":2225,"summe":3725},
{"minute":1151.4,"wr1":1450,"wr2":2100,"summe":3550},
{"minute":1152.6,"wr1":1405,"wr2":2030,"summe":3435},
{"minute":1153.6,"wr1":1380,"wr2":1995,"summe":3375},
{"minute":1154.2,"wr1":1350,"wr2":1970,"summe":3320},
{"minute":1154.8,"wr1":1150,"wr2":1590,"summe":2740},
{"minute":1155.8,"wr1":1230,"wr2":1910,"summe":3140},
{"minute":1156.4,"wr1":1300,"wr2":2020,"summe":3320},
{"minute":1157.4,"wr1":1115,"wr2":1855,"summe":2970},
{"minute":1158.3,"wr1":1080,"wr2":1660,"summe":2740},
{"minute":1158.9,"wr1":1050,"wr2":1450,"summe":2500},
{"minute":1159.6,"wr1":900,"wr2":1260,"summe":2160},
{"minute":1160.5,"wr1":650,"wr2":810,"summe":1460},
{"minute":1161.2,"wr1":700,"wr2":990,"summe":1690},
{"minute":1162.1,"wr1":620,"wr2":960,"summe":1580},
{"minute":1162.7,"wr1":420,"wr2":580,"summe":1000},
{"minute":1163.7,"wr1":950,"wr2":1550,"summe":2500},
{"minute":1164.3,"wr1":1000,"wr2":1560,"summe":2560},
{"minute":1165.3,"wr1":590,"wr2":870,"summe":1460},
{"minute":1165.9,"wr1":480,"wr2":690,"summe":1170},
{"minute":1166.5,"wr1":700,"wr2":980,"summe":1680},
{"minute":1167.2,"wr1":420,"wr2":580,"summe":1000},
{"minute":1167.8,"wr1":630,"wr2":950,"summe":1580},
{"minute":1168.4,"wr1":600,"wr2":860,"summe":1460},
{"minute":1169.1,"wr1":500,"wr2":730,"summe":1230},
{"minute":1170,"wr1":900,"wr2":1260,"summe":2160},
{"minute":1171,"wr1":920,"wr2":1360,"summe":2280},
{"minute":1171.6,"wr1":1000,"wr2":1450,"summe":2450},
{"minute":1172.5,"wr1":1030,"wr2":1480,"summe":2510},
{"minute":1173.5,"wr1":990,"wr2":1400,"summe":2390},
{"minute":1174.1,"wr1":920,"wr2":1300,"summe":2220},
{"minute":1174.8,"wr1":850,"wr2":1190,"summe":2040},
{"minute":1175.7,"wr1":780,"wr2":1050,"summe":1830},
{"minute":1176.7,"wr1":680,"wr2":900,"summe":1580},
{"minute":1177.3,"wr1":640,"wr2":820,"summe":1460},
{"minute":1177.9,"wr1":640,"wr2":820,"summe":1460},
{"minute":1178.6,"wr1":700,"wr2":990,"summe":1690},
{"minute":1179.5,"wr1":720,"wr2":1090,"summe":1810},
{"minute":1180.5,"wr1":770,"wr2":1160,"summe":1930},
{"minute":1181.4,"wr1":750,"wr2":1120,"summe":1870},
{"minute":1182.4,"wr1":720,"wr2":1090,"summe":1810},
{"minute":1183.3,"wr1":680,"wr2":960,"summe":1640},
{"minute":1184.3,"wr1":650,"wr2":810,"summe":1460},
{"minute":1185.2,"wr1":620,"wr2":700,"summe":1320},
{"minute":1186.2,"wr1":580,"wr2":630,"summe":1210},
{"minute":1187.4,"wr1":580,"wr2":650,"summe":1230},
{"minute":1188.1,"wr1":600,"wr2":690,"summe":1290},
{"minute":1189.3,"wr1":500,"wr2":600,"summe":1100},
{"minute":1190,"wr1":680,"wr2":900,"summe":1580},
{"minute":1190.9,"wr1":640,"wr2":820,"summe":1460},
{"minute":1191.9,"wr1":620,"wr2":840,"summe":1460},
{"minute":1192.8,"wr1":560,"wr2":670,"summe":1230},
{"minute":1193.8,"wr1":560,"wr2":730,"summe":1290},
{"minute":1194.7,"wr1":570,"wr2":830,"summe":1400},
{"minute":1195.7,"wr1":540,"wr2":690,"summe":1230},
{"minute":1196.9,"wr1":450,"wr2":490,"summe":940},
{"minute":1198.5,"wr1":360,"wr2":405,"summe":765},
{"minute":1200.1,"wr1":250,"wr2":340,"summe":590},
{"minute":1201.7,"wr1":210,"wr2":325,"summe":535},
{"minute":1203.3,"wr1":185,"wr2":330,"summe":515},
{"minute":1204.8,"wr1":160,"wr2":260,"summe":420},
{"minute":1206.4,"wr1":128,"wr2":232,"summe":360},
{"minute":1208,"wr1":110,"wr2":190,"summe":300},
{"minute":1209.6,"wr1":93,"wr2":162,"summe":255},
{"minute":1211.2,"wr1":85,"wr2":135,"summe":220},
{"minute":1212.7,"wr1":90,"wr2":150,"summe":240},
{"minute":1214.3,"wr1":93,"wr2":170,"summe":263},
{"minute":1215.9,"wr1":93,"wr2":170,"summe":263},
{"minute":1217.5,"wr1":80,"wr2":165,"summe":245},
{"minute":1219.1,"wr1":70,"wr2":130,"summe":200},
{"minute":1220.7,"wr1":70,"wr2":115,"summe":185},
{"minute":1222.2,"wr1":65,"wr2":100,"summe":165},
{"minute":1223.8,"wr1":55,"wr2":75,"summe":130},
{"minute":1225.4,"wr1":35,"wr2":45,"summe":80},
{"minute":1227,"wr1":15,"wr2":20,"summe":35},
{"minute":1228,"wr1":0,"wr2":0,"summe":0}
]},
"transform":[{"fold":["wr1","wr2","summe"],"as":["reihe","leistung"]}],
"mark":{"type":"line","strokeWidth":1,"clip":true},
"encoding":{
"x":{"field":"minute","type":"quantitative","scale":{"domain":[420,1246],"nice":false,"zero":false},
"axis":{"values":[420,466,512,558,604,649.5,695,741,787,833,879,925,971,1017,1063,1108.5,1154,1200,1246],
"labelExpr":"indexof([420,512,604,695,787,879,971,1063,1154,1246], datum.value) >= 0 ? (floor(datum.value/60) < 10 ? '0' : '') + floor(datum.value/60) + ':' + (datum.value % 60 < 10 ? '0' : '') + (datum.value % 60) : ''",
"labelOverlap":false,"labelFlush":false,"grid":true,"tickSize":5,"labelPadding":4,
"title":"Leistungsverlauf vom 01.05.2008 - Maximalwert: 9351 W - Durchschnitt: 3021 W - Tagesertrag: 41,60 kWh",
"titleFontSize":12,"titleFontWeight":"bold","titleColor":"black","titlePadding":9,"titleX":420}},
"y":{"field":"leistung","type":"quantitative","scale":{"domain":[0,9400],"nice":false},
"axis":{"values":[0,1880,3760,5640,7520,9400],"labelExpr":"datum.value + ' W'","title":null,"grid":true,"tickSize":6,"labelPadding":4,"labelFlush":false}},
"color":{"field":"reihe","type":"nominal","scale":{"domain":["wr1","wr2","summe"],"range":["#ff0000","#800000","#0000ff"]},
"legend":{"orient":"top","direction":"horizontal","title":"Legende:","titleOrient":"left","titleFontSize":11,"titleFontWeight":"normal","titleColor":"black","titlePadding":3,
"labelFontSize":11,"labelExpr":"datum.value == 'wr1' ? 'WR 1,' : datum.value == 'wr2' ? 'WR 2,' : 'Summe'",
"labelColor":{"expr":"datum.value == 'wr1' ? '#ff0000' : datum.value == 'wr2' ? '#800000' : '#0000ff'"},
"symbolSize":0,"symbolStrokeWidth":0,"symbolOpacity":0,"labelOffset":-9,"columnPadding":2,"offset":8,"padding":0}}
}}
]
}
